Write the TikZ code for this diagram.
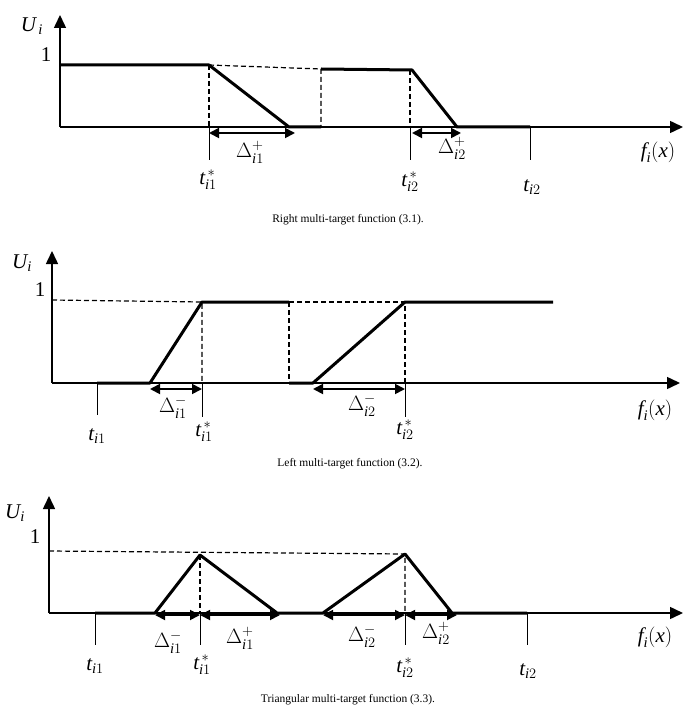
\documentclass[tikz,border=0pt]{standalone}
\usepackage{fontspec}
\usepackage{amsmath}
\setmainfont{Liberation Serif}
\usetikzlibrary{arrows.meta}

\tikzset{
  axis/.style={line width=1.5pt,-{Triangle[length=13pt,width=12pt]}},
  curve/.style={line width=3pt,line join=round},
  guide/.style={line width=1.2pt,dash pattern=on 5pt off 3pt},
  tickline/.style={line width=1pt},
  span/.style={line width=1.8pt,{Triangle[length=10pt,width=10pt]}-{Triangle[length=10pt,width=10pt]}},
  lbl/.style={font=\fontsize{21}{23}\selectfont,inner sep=0pt},
  capt/.style={font=\fontsize{11.5}{13}\selectfont,inner sep=0pt}
}
\newcommand{\tst}[1]{$\textit{t}^{\,*}_{\textit{i}#1}$}
\newcommand{\tpl}[1]{$\textit{t}_{\textit{i}#1}$}
\newcommand{\dlt}[2]{$\Delta^{#1}_{\textit{i}#2}$}

\begin{document}
\begin{tikzpicture}[x=1pt,y=-1pt]
\useasboundingbox (0,0) rectangle (696,711);

% right multi-target function
\coordinate (rO) at (60,127);
\coordinate (rA) at (209,65);
\coordinate (rB) at (289,127);
\coordinate (rC) at (321,69);
\coordinate (rD) at (412,70);
\coordinate (rE) at (457,127);
\draw[axis] (rO) -- (60,15);
\draw[axis] (rO) -- (683,127);
\node[lbl] (rU) at (32,26) {$\textit{U}_{\,\textit{i}}$};
\node[lbl] (rone) at (46,55) {1};
\draw[guide] (rA) -- (rC) -- (321,127);
\draw[guide] (rA) -- (209,127);
\draw[guide] (410,70) -- (410,127);
\draw[curve] (60,65) -- (rA) -- (rB) -- (321,127);
\draw[curve] (rC) -- (rD) -- (rE) -- (530,127);
\foreach \x/\y in {209/160,410/160,530/160}
  \draw[tickline] (\x,127) -- (\x,\y);
\draw[span] (209,133) -- (295,133);
\draw[span] (412,133) -- (461,133);
\node[lbl] (rd1) at (250,152) {\dlt{+}{1}};
\node[lbl] (rd2) at (452,148) {\dlt{+}{2}};
\node[lbl] (rt1) at (208,180) {\tst{1}};
\node[lbl] (rt2) at (410,182) {\tst{2}};
\node[lbl] (rt3) at (532,187) {\tpl{2}};
\node[lbl] (rf) at (658,152) {$\textit{f}_{\textit{i}}(\textit{x})$};
\node[capt] (rcap) at (348,220) {Right multi-target function (3.1).};

% left multi-target function
\coordinate (lO) at (52,383);
\coordinate (lA) at (202,302);
\coordinate (lB) at (289,302);
\coordinate (lC) at (405,302);
\draw[axis] (lO) -- (52,251);
\draw[axis] (lO) -- (680,383);
\node[lbl] (lU) at (22,263) {$\textit{U}_{\textit{i}}$};
\node[lbl] (lone) at (40,290) {1};
\draw[guide] (52,300) -- (lA) -- (202,383);
\draw[guide] (lB) -- (lC) -- (405,383);
\draw[guide] (lB) -- (289,383);
\draw[curve] (97,383) -- (150,383) -- (lA) -- (lB);
\draw[curve] (289,383) -- (313,383) -- (lC) -- (553,302);
\foreach \x/\y in {97/415,202/417,405/417}
  \draw[tickline] (\x,383) -- (\x,\y);
\draw[span] (150,389) -- (202,389);
\draw[span] (313,389) -- (405,389);
\node[lbl] (ld1) at (173,407) {\dlt{-}{1}};
\node[lbl] (ld2) at (362,405) {\dlt{-}{2}};
\node[lbl] (lt0) at (97,436) {\tpl{1}};
\node[lbl] (lt1) at (204,432) {\tst{1}};
\node[lbl] (lt2) at (405,430) {\tst{2}};
\node[lbl] (lf) at (655,410) {$\textit{f}_{\textit{i}}(\textit{x})$};
\node[capt] (lcap) at (350,464) {Left multi-target function (3.2).};

% triangular multi-target function
\coordinate (tO) at (49,613);
\coordinate (tA) at (200,555);
\coordinate (tB) at (405,554);
\draw[axis] (tO) -- (49,496);
\draw[axis] (tO) -- (683,613);
\node[lbl] (tU) at (15,513) {$\textit{U}_{\textit{i}}$};
\node[lbl] (tone) at (35,537) {1};
\draw[guide] (49,551) -- (tB) -- (405,613);
\draw[guide] (tA) -- (200,613);
\draw[curve] (95,613) -- (155,613) -- (tA) -- (277,613) -- (323,613)
  -- (tB) -- (452,613) -- (527,613);
\foreach \x in {95,200,405,527}
  \draw[tickline] (\x,613) -- (\x,645);
\draw[span] (155,615) -- (200,615);
\draw[span] (200,615) -- (280,615);
\draw[span] (323,615) -- (405,615);
\draw[span] (405,615) -- (457,615);
\node[lbl] (td1) at (168,642) {\dlt{-}{1}};
\node[lbl] (td2) at (240,638) {\dlt{+}{1}};
\node[lbl] (td3) at (362,636) {\dlt{-}{2}};
\node[lbl] (td4) at (436,633) {\dlt{+}{2}};
\node[lbl] (tt0) at (95,666) {\tpl{1}};
\node[lbl] (tt1) at (202,665) {\tst{1}};
\node[lbl] (tt2) at (405,668) {\tst{2}};
\node[lbl] (tt3) at (528,671) {\tpl{2}};
\node[lbl] (tf) at (655,637) {$\textit{f}_{\textit{i}}(\textit{x})$};
\node[capt] (tcap) at (348,700) {Triangular multi-target function (3.3).};
\end{tikzpicture}
\end{document}
